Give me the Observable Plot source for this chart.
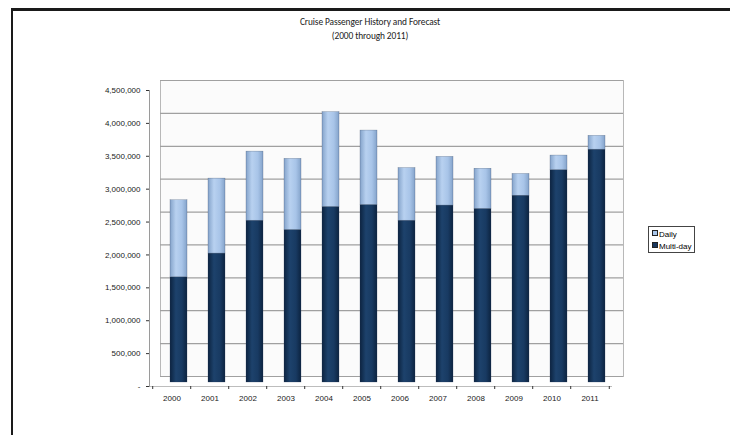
<!DOCTYPE html>
<html>
<head>
<meta charset="utf-8">
<script src="https://cdn.jsdelivr.net/npm/d3@7"></script>
<script src="https://cdn.jsdelivr.net/npm/@observablehq/plot@0.6"></script>
<style>
  html, body { margin: 0; padding: 0; background: #fff; }
  #wrap { position: relative; width: 730px; height: 435px; overflow: hidden; background: #fff; }
  #chart { position: absolute; left: 0; top: 0; }
  .border-top { position: absolute; left: 11px; top: 8px; width: 719px; height: 3px; background: #1a1a1a; }
  .border-left { position: absolute; left: 11px; top: 8px; width: 2px; height: 427px; background: #1a1a1a; }
  #title { position: absolute; left: 0; top: 15px; width: 740px; text-align: center;
           font-family: Carlito, Lato, "Open Sans", sans-serif; font-size: 9.4px; letter-spacing: -0.1px; line-height: 14px; color: #222; }
  #legend { position: absolute; left: 648px; top: 226px; width: 45px; height: 25px;
            border: 1px solid #444; font-family: "Liberation Sans", Arial, sans-serif; font-size: 8px; color: #000; background:#fff;
            -webkit-font-smoothing: antialiased; }
  .li { position: absolute; left: 3px; height: 10px; line-height: 10px; white-space: nowrap; }
  .sw { display: inline-block; width: 4px; height: 4px; border: 0.6px solid #222; margin-right: 1px; vertical-align: 1px; }
</style>
</head>
<body>
<svg width="0" height="0" style="position:absolute">
  <defs>
    <linearGradient id="gMulti" x1="0" x2="1" y1="0" y2="0">
      <stop offset="0" stop-color="#0c2340"/>
      <stop offset="0.35" stop-color="#1d426c"/>
      <stop offset="0.7" stop-color="#183a62"/>
      <stop offset="1" stop-color="#0c2340"/>
    </linearGradient>
    <linearGradient id="gDaily" x1="0" x2="1" y1="0" y2="0">
      <stop offset="0" stop-color="#84a3ca"/>
      <stop offset="0.35" stop-color="#b8d1f0"/>
      <stop offset="0.7" stop-color="#a8c4e8"/>
      <stop offset="1" stop-color="#84a3ca"/>
    </linearGradient>
  </defs>
</svg>
<div id="wrap">
  <div id="chart"></div>
  <div class="border-top"></div>
  <div class="border-left"></div>
  <div id="title">Cruise Passenger History and Forecast<br>(2000 through 2011)</div>
  <div id="legend"></div>
</div>
<script>
const years = ["2000","2001","2002","2003","2004","2005","2006","2007","2008","2009","2010","2011"];
const multiDay = [1600000, 1960000, 2460000, 2320000, 2670000, 2700000, 2460000, 2690000, 2640000, 2840000, 3230000, 3540000];
const daily    = [1170000, 1140000, 1050000, 1080000, 1440000, 1130000,  800000,  740000,  610000,  330000,  220000,  210000];
const seriesNames = ["Daily", "Multi-day"];
const seriesFills = ["url(#gDaily)", "url(#gMulti)"];
const legendColors = ["#a9c6ea", "#17365d"];
const yTicks = [0, 500000, 1000000, 1500000, 2000000, 2500000, 3000000, 3500000, 4000000, 4500000];

const rows = [];
years.forEach((y, i) => rows.push({year: y, series: "Multi-day", value: multiDay[i]}));
years.forEach((y, i) => rows.push({year: y, series: "Daily", value: daily[i]}));

const step = (612 - 149) / years.length;

const chart = Plot.plot({
  width: 730,
  height: 435,
  marginLeft: 149,
  marginRight: 118,
  marginTop: 90,
  marginBottom: 49,
  style: {fontFamily: "'Liberation Sans', Arial, sans-serif", fontSize: "8px", background: "transparent", color: "#222"},
  x: {domain: years, range: [149, 612], paddingInner: 0.56, paddingOuter: 0.28, label: null},
  y: {domain: [0, 4500000], label: null},
  color: {domain: seriesNames, range: seriesFills},
  marks: [
    Plot.frame({dx: 11, dy: -10, stroke: "#b8b8b8", fill: "#fbfbfb"}),
    Plot.ruleY(yTicks, {dx: 11, dy: -10, stroke: "#a0a0a0", strokeWidth: 1.2}),
    Plot.ruleY([0], {stroke: "#bdbdbd"}),
    Plot.frame({anchor: "left", stroke: "#9a9a9a"}),
    Plot.barY(rows, Plot.stackY({order: ["Multi-day", "Daily"]}, {
      x: "year", y: "value", z: "series", fill: "series", dx: 7, dy: -4,
      stroke: "#2b3f5c", strokeWidth: 0.4, strokeOpacity: 0.6
    })),
    Plot.axisY({ticks: yTicks, tickSize: 3, tickPadding: 6,
      tickFormat: d => d === 0 ? "-" : d3.format(",")(d), stroke: "#333"}),
    Plot.axisX({tickSize: 0, tickPadding: 9}),
    Plot.axisX({tickSize: 3, tickFormat: () => "", dx: -step / 2, stroke: "#333"}),
    Plot.axisX({ticks: [years[years.length - 1]], tickSize: 3, tickFormat: () => "", dx: step / 2, stroke: "#333"})
  ]
});
document.getElementById("chart").appendChild(chart);

const legend = document.getElementById("legend");
seriesNames.forEach((name, i) => {
  const d = document.createElement("div");
  d.className = "li";
  d.style.top = (3 + i * 12) + "px";
  d.innerHTML = `<span class="sw" style="background:${legendColors[i]}"></span>${name}`;
  legend.appendChild(d);
});
</script>
</body>
</html>
